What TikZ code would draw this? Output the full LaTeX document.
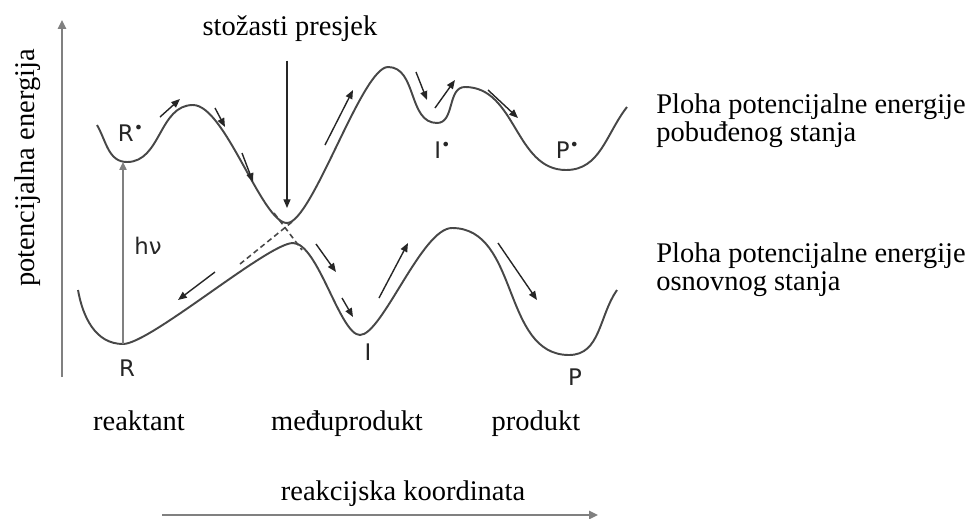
\documentclass[tikz,border=0pt]{standalone}
\usepackage{fontspec}
\setmainfont{Liberation Serif}
\newfontfamily\oznakafont{DejaVu Sans}
\usetikzlibrary{arrows.meta}

\begin{document}
\begin{tikzpicture}[x=0.02cm, y=0.02cm,
        ploha/.style={draw=black!72, line width=1.1pt},
        strelica/.style={black!85, line width=0.8pt, -{Triangle[length=5pt,width=4pt]}},
        os/.style={black!50, line width=1.3pt, -{Triangle[length=5pt,width=4.5pt]}},
        pobuda/.style={black!50, line width=1.1pt, -{Triangle[length=4.5pt,width=4pt]}},
        tekst/.style={font=\fontsize{16.2}{16}\selectfont, inner sep=0pt},
        oznaka/.style={font=\oznakafont\fontsize{13}{13}\selectfont, text=black!85, inner sep=0pt}]
        \useasboundingbox (0,0) rectangle (968,-518);

        % pobudjeno stanje
        \coordinate (rs) at (127,-162);
        \coordinate (ts1) at (193,-105);
        \coordinate (ci) at (287,-223);
        \coordinate (ts2) at (388,-67);
        \coordinate (is) at (437,-123);
        \coordinate (ts3) at (465,-87);
        \coordinate (ps) at (566,-170);
        % osnovno stanje
        \coordinate (r) at (123,-344);
        \coordinate (ts4) at (293,-243);
        \coordinate (i) at (360,-335);
        \coordinate (ts5) at (452,-228);
        \coordinate (p) at (569,-355);

        \draw[ploha] (97,-125) to[out=-60,in=180] (rs) to[out=0,in=180] (ts1)
            .. controls (225,-105) and (262,-223) .. (ci)
            .. controls (312,-223) and (362,-67) .. (ts2)
            to[out=0,in=180] (is) to[out=0,in=180] (ts3) to[out=0,in=180] (ps)
            to[out=0,in=-128] (627,-107);
        \draw[ploha] (78,-290) to[out=-80,in=180] (r)
            .. controls (150,-344) and (268,-243) .. (ts4)
            .. controls (318,-243) and (340,-335) .. (i)
            .. controls (382,-335) and (422,-228) .. (ts5)
            to[out=0,in=180] (p)
            to[out=0,in=-125] (617,-290);
        \draw[black!72, line width=0.9pt, dash pattern=on 3pt off 2pt] (240,-264) -- (292,-222);
        \draw[black!72, line width=0.9pt, dash pattern=on 3pt off 2pt] (274,-213) -- (302,-250);

        % osi
        \draw[os] (62,-377) -- (62,-20);
        \draw[os] (162,-515) -- (598,-515);

        % oznake
        \node[oznaka] (lrs) at (131,-133) {R\textsuperscript{•}};
        \node[oznaka] (lis) at (443,-150) {I\textsuperscript{•}};
        \node[oznaka] (lps) at (568,-150) {P\textsuperscript{•}};
        \node[oznaka] (lr) at (127,-368) {R};
        \node[oznaka] (li) at (368,-352) {I};
        \node[oznaka] (lp) at (575,-377) {P};
        \node[oznaka] (hv) at (148,-246) {hν};

        \node[tekst, anchor=base] (presjek) at (290,-35) {stožasti presjek};
        \node[tekst, align=left, anchor=north west] (pobudjeno) at (656,-93) {Ploha potencijalne energije\\pobuđenog stanja};
        \node[tekst, align=left, anchor=north west] (osnovno) at (656,-242) {Ploha potencijalne energije\\osnovnog stanja};
        \node[tekst, anchor=base] (reaktant) at (139,-430) {reaktant};
        \node[tekst, anchor=base] (medju) at (347,-430) {međuprodukt};
        \node[tekst, anchor=base] (produkt) at (536,-430) {produkt};
        \node[tekst, anchor=base] (koordinata) at (403,-500) {reakcijska koordinata};
        \node[tekst, anchor=base, rotate=90] (energija) at (34,-168) {potencijalna energija};

        % strelice
        \draw[pobuda] (r) -- (r |- rs);
        \draw[strelica, shorten <=11pt, shorten >=8.5pt] (ci |- presjek.south) -- (ci);
        \draw[strelica] (160,-117) -- (180,-99);
        \draw[strelica] (215,-108) -- (225,-127);
        \draw[strelica] (242,-153) -- (253,-182);
        \draw[strelica] (325,-145) -- (353,-90);
        \draw[strelica] (416,-72) -- (427,-100);
        \draw[strelica] (435,-108) -- (455,-80);
        \draw[strelica] (488,-90) -- (518,-118);
        \draw[strelica] (215,-272) -- (178,-300);
        \draw[strelica] (316,-244) -- (336,-272);
        \draw[strelica] (342,-298) -- (353,-317);
        \draw[strelica] (379,-298) -- (408,-243);
        \draw[strelica] (498,-243) -- (537,-300);
    \end{tikzpicture}
\end{document}
